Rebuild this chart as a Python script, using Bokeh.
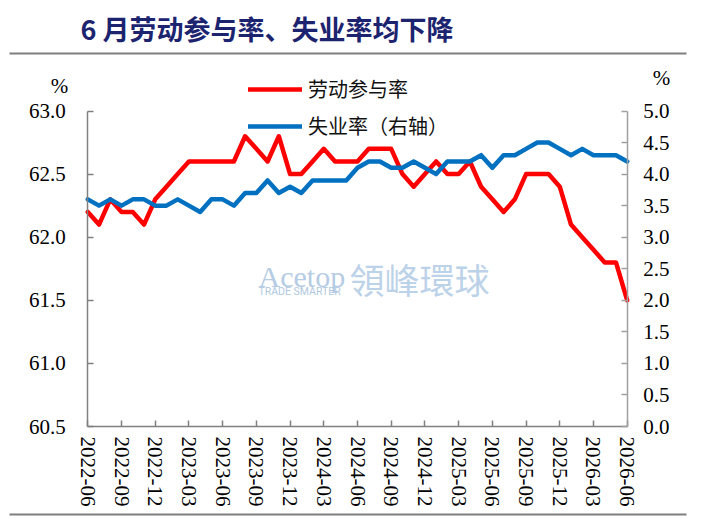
from bokeh.plotting import figure
from bokeh.models import (Range1d, LinearAxis, FixedTicker, NumeralTickFormatter,
                          Label, Legend, LegendItem, BoxAnnotation)
from bokeh.embed import file_html
from bokeh.resources import INLINE

# ---- data ----
tick_labels = ["2022-06", "2022-09", "2022-12", "2023-03", "2023-06", "2023-09",
               "2023-12", "2024-03", "2024-06", "2024-09", "2024-12", "2025-03",
               "2025-06", "2025-09", "2025-12", "2026-03", "2026-06"]
participation = [62.2, 62.1, 62.3, 62.2, 62.2, 62.1, 62.3, 62.4, 62.5, 62.6,
                 62.6, 62.6, 62.6, 62.6, 62.8, 62.7, 62.6, 62.8, 62.5, 62.5,
                 62.6, 62.7, 62.6, 62.6, 62.6, 62.7, 62.7, 62.7, 62.5, 62.4,
                 62.5, 62.6, 62.5, 62.5, 62.6, 62.4, 62.3, 62.2, 62.3, 62.5,
                 62.5, 62.5, 62.4, 62.1, 62.0, 61.9, 61.8, 61.8, 61.5]
unemployment = [3.6, 3.5, 3.6, 3.5, 3.6, 3.6, 3.5, 3.5, 3.6, 3.5,
                3.4, 3.6, 3.6, 3.5, 3.7, 3.7, 3.9, 3.7, 3.8, 3.7,
                3.9, 3.9, 3.9, 3.9, 4.1, 4.2, 4.2, 4.1, 4.1, 4.2,
                4.1, 4.0, 4.2, 4.2, 4.2, 4.3, 4.1, 4.3, 4.3, 4.4,
                4.5, 4.5, 4.4, 4.3, 4.4, 4.3, 4.3, 4.3, 4.2]
months = list(range(len(participation)))
tick_pos = months[::3]
left_ticks = [60.5, 61.0, 61.5, 62.0, 62.5, 63.0]
right_ticks = [0.0, 0.5, 1.0, 1.5, 2.0, 2.5, 3.0, 3.5, 4.0, 4.5, 5.0]

title_text = "6 月劳动参与率、失业率均下降"
name_red = "劳动参与率"
name_blue = "失业率（右轴）"

SERIF = "Liberation Serif"
CJK = "Noto Sans CJK SC"
GREY = "#808080"

W, H = 696, 516
# plot-area geometry in canvas pixels
FL, FR, FT, FB = 87.3, 626.7, 110.5, 426.0
n = len(months) - 1
px_x = (FR - FL) / n
x0, x1 = min(months), max(months)
l0, l1 = left_ticks[0], left_ticks[-1]
r0, r1 = right_ticks[0], right_ticks[-1]
pl = (FB - FT) / (l1 - l0)
pr = (FB - FT) / (r1 - r0)

p = figure(width=W, height=H, output_backend="svg", toolbar_location=None,
           x_range=Range1d(x0 - FL / px_x, x1 + (W - FR) / px_x),
           y_range=Range1d(l0 - (H - FB) / pl, l1 + FT / pl),
           min_border=0)
p.outline_line_color = None
p.xgrid.visible = False
p.ygrid.visible = False
p.background_fill_color = "white"
p.border_fill_color = "white"

p.extra_y_ranges = {"right": Range1d(r0 - (H - FB) / pr, r1 + FT / pr)}

r_red = p.line(months, participation, line_color="#FF0000", line_width=4.5,
               line_join="round", line_cap="round")
r_blue = p.line(months, unemployment, line_color="#0070C0", line_width=4.5,
                line_join="round", line_cap="round", y_range_name="right")

def style_axis(ax, color, standoff):
    ax.major_label_text_font = SERIF
    ax.major_label_text_font_size = "21px"
    ax.major_label_text_color = "black"
    ax.major_label_standoff = standoff
    ax.major_tick_in = 6
    ax.major_tick_out = 0
    ax.minor_tick_line_color = None
    ax.axis_line_color = color
    ax.axis_line_width = 1.5
    ax.major_tick_line_color = color
    ax.major_tick_line_width = 1.5

# x axis
xa = p.xaxis[0]
xa.ticker = FixedTicker(ticks=tick_pos)
xa.major_label_overrides = {t: l for t, l in zip(tick_pos, tick_labels)}
xa.major_label_orientation = "vertical"
xa.fixed_location = l0
xa.bounds = (x0, x1)
style_axis(xa, GREY, 10)

# left axis
ya = p.yaxis[0]
ya.ticker = FixedTicker(ticks=left_ticks)
ya.formatter = NumeralTickFormatter(format="0.0")
ya.fixed_location = x0
ya.bounds = (l0, l1)
style_axis(ya, GREY, 22)

# right axis
yr = LinearAxis(y_range_name="right", ticker=FixedTicker(ticks=right_ticks),
                formatter=NumeralTickFormatter(format="0.0"),
                fixed_location=x1, bounds=(r0, r1))
style_axis(yr, "#A0A0A0", 16)
p.add_layout(yr, "right")

# legend (bottom-left corner in canvas px, y up)
legend = Legend(items=[LegendItem(label=name_red, renderers=[r_red]),
                       LegendItem(label=name_blue, renderers=[r_blue])],
                location=(248, 376), orientation="vertical",
                glyph_width=54, glyph_height=20, label_height=20,
                label_standoff=6, spacing=8, padding=0, margin=0,
                label_text_font=CJK, label_text_font_size="20px",
                label_text_color="#111111",
                background_fill_alpha=0, border_line_color=None)
p.add_layout(legend)

def screen_label(**kw):
    return Label(x_units="screen", y_units="screen", **kw)

# title & rules
p.add_layout(screen_label(x=80, y=488, text=title_text, text_font=CJK,
                          text_font_size="27px", text_font_style="bold",
                          text_color="#1C2470", text_baseline="middle"))
for yb in (462, 1):
    p.add_layout(BoxAnnotation(left=9, right=686, bottom=yb, top=yb + 2,
                               left_units="screen", right_units="screen",
                               top_units="screen", bottom_units="screen",
                               fill_color="#7F7F7F", fill_alpha=1,
                               line_color=None, level="underlay"))
p.add_layout(screen_label(x=59, y=431, text="%", text_font=SERIF,
                          text_font_size="21px", text_align="center",
                          text_baseline="middle", text_color="black"))
p.add_layout(screen_label(x=661, y=439, text="%", text_font=SERIF,
                          text_font_size="21px", text_align="center",
                          text_baseline="middle", text_color="black"))

# watermark
p.add_layout(screen_label(x=258, y=240, text="Acetop", text_font=SERIF,
                          text_font_size="30px", text_color="#B5CCE4",
                          text_baseline="alphabetic", level="underlay"))
p.add_layout(screen_label(x=349, y=238, text="領峰環球",
                          text_font="Noto Sans CJK TC", text_font_size="35px",
                          text_color="#BCD2E8", text_baseline="middle",
                          level="underlay"))
p.add_layout(screen_label(x=258, y=225, text="TRADE SMARTER", text_font="Roboto",
                          text_font_size="10.5px", text_color="#B0C8E0",
                          text_baseline="middle", level="underlay"))

open("out.html", "w").write(file_html(p, INLINE))
